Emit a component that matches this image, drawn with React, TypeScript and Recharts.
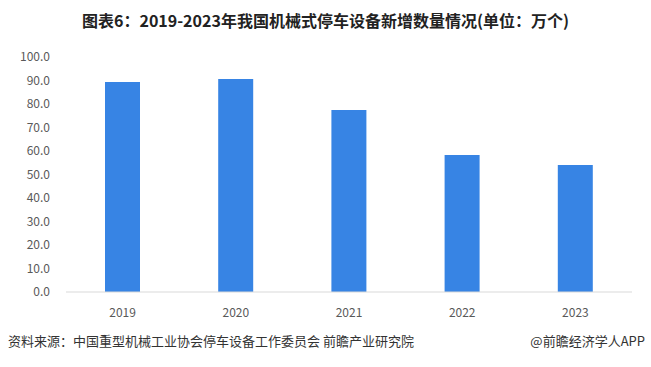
import { BarChart, Bar, XAxis, YAxis } from 'recharts'

const years = ['2019', '2020', '2021', '2022', '2023']
const newUnits = [89.4, 90.6, 77.4, 58.3, 54.0]
const yTicks = [0, 10, 20, 30, 40, 50, 60, 70, 80, 90, 100]

const chartData = years.map((year, i) => ({ year, value: newUnits[i] }))

const FONT = '"Noto Sans CJK SC", "Noto Sans", sans-serif'

export default function App() {
  return (
    <div style={{ position: 'absolute', left: 0, top: 0, width: 651, height: 367, background: '#fff', fontFamily: FONT }}>
      <div
        style={{
          position: 'absolute',
          top: 8,
          left: 0,
          width: 651,
          textAlign: 'center',
          fontSize: 16,
          fontWeight: 700,
          color: '#222',
          lineHeight: '24px',
        }}
      >
        图表6：2019-2023年我国机械式停车设备新增数量情况(单位：万个)
      </div>
      <BarChart width={651} height={367} data={chartData} margin={{ top: 57, right: 19, left: 0, bottom: 45 }}>
        <YAxis
          width={66}
          domain={[0, 100]}
          ticks={yTicks}
          tickFormatter={(v: number) => v.toFixed(1)}
          axisLine={false}
          tickLine={false}
          tickMargin={10}
          tick={{ fontSize: 12, fill: '#595959', fontFamily: FONT }}
          interval={0}
        />
        <XAxis
          dataKey="year"
          height={30}
          axisLine={{ stroke: '#d9d9d9' }}
          tickLine={false}
          tickMargin={10}
          tick={{ fontSize: 12, fill: '#595959', fontFamily: FONT }}
        />
        <Bar dataKey="value" fill="#3784e4" barSize={35} isAnimationActive={false} />
      </BarChart>
      <div
        style={{
          position: 'absolute',
          top: 331,
          left: 8,
          fontSize: 13,
          color: '#333',
          lineHeight: '20px',
          whiteSpace: 'nowrap',
        }}
      >
        资料来源：中国重型机械工业协会停车设备工作委员会 前瞻产业研究院
      </div>
      <div
        style={{
          position: 'absolute',
          top: 331,
          right: 6,
          fontSize: 13,
          color: '#333',
          lineHeight: '20px',
          whiteSpace: 'nowrap',
        }}
      >
        @前瞻经济学人APP
      </div>
    </div>
  )
}
